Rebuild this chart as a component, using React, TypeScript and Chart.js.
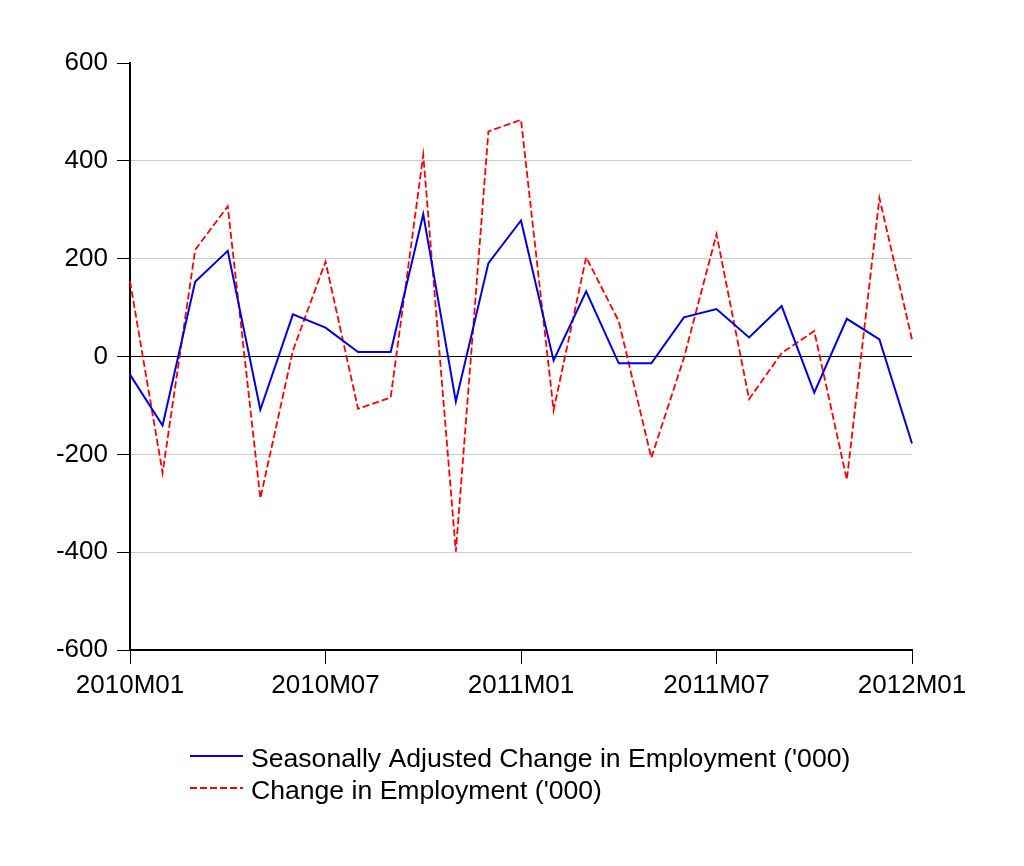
import React, { useEffect, useRef } from "react";
import { Chart, registerables } from "chart.js";

Chart.register(...registerables);

// Monthly periods, 2010M01 .. 2012M01
const months: string[] = [
  "2010M01", "2010M02", "2010M03", "2010M04", "2010M05", "2010M06",
  "2010M07", "2010M08", "2010M09", "2010M10", "2010M11", "2010M12",
  "2011M01", "2011M02", "2011M03", "2011M04", "2011M05", "2011M06",
  "2011M07", "2011M08", "2011M09", "2011M10", "2011M11", "2011M12",
  "2012M01",
];

// Seasonally adjusted change in employment ('000)
const seasonallyAdjusted: number[] = [
  -37, -141, 153, 216, -109, 86, 59, 9, 9, 291, -92, 191,
  278, -8, 133, -14, -14, 80, 97, 39, 103, -74, 77, 35, -178,
];

// Unadjusted change in employment ('000)
const rawChange: number[] = [
  154, -238, 218, 307, -290, 12, 194, -107, -84, 412, -399, 460,
  484, -110, 203, 72, -207, -3, 250, -87, 7, 52, -252, 324, 35,
];

const seriesLabels: string[] = [
  "Seasonally Adjusted Change in Employment ('000)",
  "Change in Employment ('000)",
];

const yTickValues: number[] = [-600, -400, -200, 0, 200, 400, 600];

const FONT_FAMILY = '"Liberation Sans", Arial, sans-serif';
const BLUE = "#0000e6";
const RED = "#ff0000";

// Two-row legend drawn under the plot, lines left-aligned.
const bottomLegend = {
  id: "bottomLegend",
  afterDraw(chart: any) {
    const ctx = chart.ctx as CanvasRenderingContext2D;
    const rows = chart.data.datasets.map((ds: any, i: number) => ({
      label: ds.label,
      color: ds.borderColor,
      dash: ds.borderDash || [],
      lineY: 756 + i * 32,
      textY: 766.5 + i * 32,
    }));
    ctx.save();
    ctx.font = `26.6px ${FONT_FAMILY}`;
    ctx.textBaseline = "alphabetic";
    ctx.textAlign = "left";
    for (const r of rows) {
      ctx.beginPath();
      ctx.setLineDash(r.dash);
      ctx.strokeStyle = r.color;
      ctx.lineWidth = 2;
      ctx.moveTo(190, r.lineY);
      ctx.lineTo(243, r.lineY);
      ctx.stroke();
      ctx.setLineDash([]);
      ctx.fillStyle = "#000";
      ctx.fillText(r.label, 251, r.textY);
    }
    ctx.restore();
  },
};

export default function App() {
  const canvasRef = useRef<HTMLCanvasElement | null>(null);

  useEffect(() => {
    if (!canvasRef.current) return;
    const chart = new Chart(canvasRef.current, {
      type: "line",
      data: {
        labels: months,
        datasets: [
          {
            label: seriesLabels[0],
            data: seasonallyAdjusted,
            borderColor: BLUE,
            backgroundColor: BLUE,
            borderWidth: 2,
            pointRadius: 0,
            tension: 0,
            fill: false,
          },
          {
            label: seriesLabels[1],
            data: rawChange,
            borderColor: RED,
            backgroundColor: RED,
            borderWidth: 1.8,
            borderDash: [7, 3],
            pointRadius: 0,
            tension: 0,
            fill: false,
          },
        ],
      },
      options: {
        responsive: false,
        animation: false,
        events: [],
        layout: { padding: { top: 63, left: 0, right: 112, bottom: 156 } },
        plugins: {
          legend: { display: false },
          tooltip: { enabled: false },
          title: { display: false },
        },
        scales: {
          x: {
            type: "category",
            offset: false,
            afterFit: (s: any) => {
              s.height = 60;
            },
            grid: {
              drawOnChartArea: false,
              drawTicks: true,
              tickLength: 14,
              color: "#000",
              tickColor: "#000",
              lineWidth: 1,
            },
            border: { display: true, color: "#000", width: 2 },
            ticks: {
              autoSkip: false,
              maxRotation: 0,
              minRotation: 0,
              padding: 6,
              color: "#000",
              font: { family: FONT_FAMILY, size: 26 },
              callback: (_v: any, i: number) => (i % 6 === 0 ? months[i] : null),
            },
          },
          y: {
            min: -600,
            max: 600,
            afterFit: (s: any) => {
              s.width = 130;
            },
            afterBuildTicks: (s: any) => {
              s.ticks = yTickValues.map((v) => ({ value: v }));
            },
            grid: {
              drawTicks: true,
              tickLength: 13,
              tickColor: "#000",
              lineWidth: 1,
              color: (c: any) => {
                const v = c.tick ? c.tick.value : null;
                if (v === 0) return "#000";
                if (v === 600 || v === -600) return "rgba(0,0,0,0)";
                return "#cccccc";
              },
            },
            border: { display: true, color: "#000", width: 2 },
            ticks: {
              padding: 9,
              color: "#000",
              font: { family: FONT_FAMILY, size: 26 },
              callback: (v: any) => String(v),
            },
          },
        },
      },
      plugins: [bottomLegend],
    });
    return () => chart.destroy();
  }, []);

  return (
    <div
      style={{
        position: "absolute",
        left: 0,
        top: 0,
        width: 1024,
        height: 866,
        background: "#fff",
      }}
    >
      <canvas
        ref={canvasRef}
        width={1024}
        height={866}
        style={{ display: "block", width: 1024, height: 866 }}
      />
    </div>
  );
}
